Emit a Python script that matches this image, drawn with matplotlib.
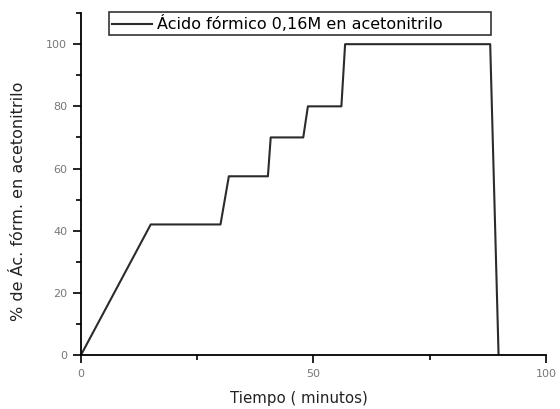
import matplotlib
matplotlib.use("Agg")
import matplotlib.pyplot as plt
from matplotlib.ticker import MultipleLocator

# Gradient program: time (min) vs % formic acid in acetonitrile
tiempo = [0, 15, 30, 31.8, 40.2, 40.8, 47.8, 48.8, 56.0, 56.8, 88.0, 89.8]
porcentaje = [0, 42, 42, 57.5, 57.5, 70, 70, 80, 80, 100, 100, 0]

etiqueta_serie = "Ácido fórmico 0,16M en acetonitrilo"
etiqueta_x = "Tiempo ( minutos)"
etiqueta_y = "% de Ác. fórm. en acetonitrilo"
xticks = [0, 50, 100]
yticks = [0, 20, 40, 60, 80, 100]

plt.rcParams["font.family"] = ["DejaVu Sans"]

fig = plt.figure(figsize=(5.6, 4.09), dpi=100)
ax = fig.add_axes([0.1446, 0.132, 0.8304, 0.836])

ax.plot(tiempo, porcentaje, color="#2b2b2b", lw=1.5, label=etiqueta_serie)

ax.set_xlim(0, 100)
ax.set_ylim(0, 110)
ax.set_xticks(xticks)
ax.set_yticks(yticks)
ax.xaxis.set_minor_locator(MultipleLocator(25))
ax.yaxis.set_minor_locator(MultipleLocator(10))

for s in ("top", "right"):
    ax.spines[s].set_visible(False)
for s in ("left", "bottom"):
    ax.spines[s].set_linewidth(1.3)
    ax.spines[s].set_color("black")

ax.tick_params(which="major", direction="out", length=6, width=1.2,
               labelsize=8, labelcolor="#777777", pad=4)
ax.tick_params(which="minor", direction="out", length=3.5, width=1.2)

ax.set_xlabel(etiqueta_x, fontsize=10.8, color="#222222")
ax.set_ylabel(etiqueta_y, fontsize=11.5, color="#222222")
ax.xaxis.set_label_coords(0.469, -0.105)
ax.yaxis.set_label_coords(-0.118, 0.45)

# legend box spans most of the top of the axes, entry left-aligned
leg = ax.legend(loc="upper left", bbox_to_anchor=(0.060, 0.0, 0.822, 1.003),
                mode="expand", fontsize=11.5, frameon=True, fancybox=False,
                handlelength=2.5, borderpad=0.2, handletextpad=0.3,
                borderaxespad=0.0)
leg.get_frame().set_edgecolor("black")
leg.get_frame().set_linewidth(1.2)

fig.savefig("out.png", dpi=100)
